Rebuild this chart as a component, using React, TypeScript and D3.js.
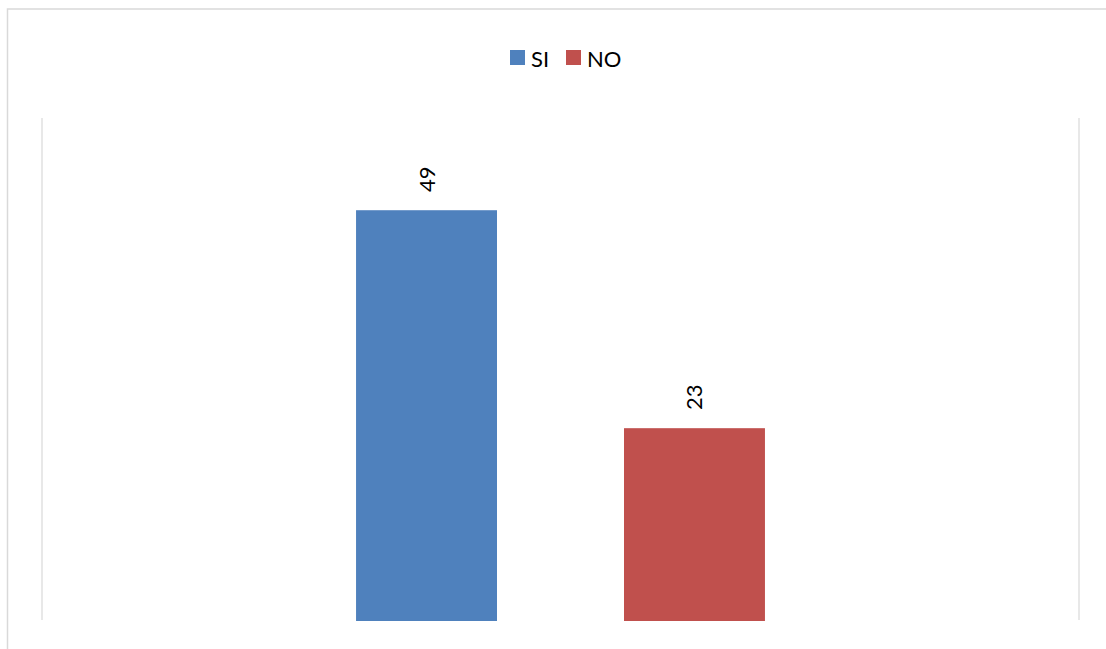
import React from "react";
import * as d3 from "d3";

const categories = [""];
const seriesNames = ["SI", "NO"];
const seriesValues = [49, 23];
const seriesColors = ["#4F81BD", "#C0504D"];
const yMax = 60;

const W = 1106;
const H = 649;
const plot = { left: 42, right: 1079, top: 118, bottom: 621 };
const FONT = "Lato, Carlito, 'Open Sans', sans-serif";

export default function App() {
  const x0 = d3
    .scaleBand<string>()
    .domain(categories)
    .range([plot.left, plot.right])
    .paddingInner(0)
    .paddingOuter(0);
  const x1 = d3
    .scaleBand<string>()
    .domain(seriesNames)
    .range([0, x0.bandwidth()])
    .paddingInner(0.474)
    .paddingOuter(1.172);
  const y = d3.scaleLinear().domain([0, yMax]).range([plot.bottom, plot.top]);

  const legendItems = [
    { name: seriesNames[0], color: seriesColors[0], x: 510 },
    { name: seriesNames[1], color: seriesColors[1], x: 566 },
  ];

  return (
    <svg
      width={W}
      height={H}
      style={{ position: "absolute", left: 0, top: 0, background: "#fff" }}
      fontFamily={FONT}
    >
      <rect x={0} y={0} width={W} height={H} fill="#fff" />
      <rect
        x={7.5}
        y={9}
        width={W + 20}
        height={H + 20}
        fill="none"
        stroke="#d9d9d9"
        strokeWidth={1.5}
      />
      <line x1={plot.left} x2={plot.left} y1={plot.top} y2={plot.bottom - 1} stroke="#d9d9d9" strokeWidth={1.2} />
      <line x1={plot.right} x2={plot.right} y1={plot.top} y2={plot.bottom - 1} stroke="#d9d9d9" strokeWidth={1.2} />

      {categories.map((c) => (
        <g key={c} transform={`translate(${x0(c)},0)`}>
          {seriesNames.map((s, i) => {
            const v = seriesValues[i];
            const bx = x1(s)!;
            const bw = x1.bandwidth();
            const cx = bx + bw / 2;
            const ty = y(v) - 31;
            return (
              <g key={s}>
                <rect x={bx} y={y(v)} width={bw} height={y(0) - y(v)} fill={seriesColors[i]} />
                <text
                  transform={`translate(${cx + 8},${ty}) rotate(-90)`}
                  textAnchor="middle"
                  fontSize={22}
                  fill="#000"
                >
                  {v}
                </text>
              </g>
            );
          })}
        </g>
      ))}

      {legendItems.map((l) => (
        <g key={l.name}>
          <rect x={l.x} y={50} width={15} height={15} fill={l.color} />
          <text x={l.x + 21} y={66.5} fontSize={22} fill="#000">
            {l.name}
          </text>
        </g>
      ))}
    </svg>
  );
}
